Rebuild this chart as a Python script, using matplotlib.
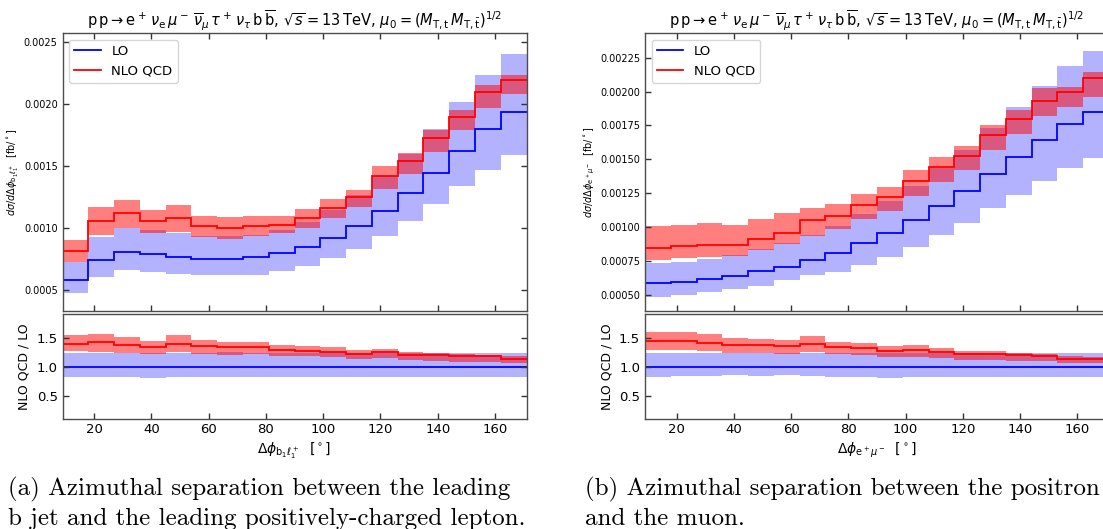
import numpy as np
import matplotlib
matplotlib.use('Agg')
import matplotlib.pyplot as plt
from matplotlib.lines import Line2D
from matplotlib.ticker import FormatStrFormatter

# bin edges in degrees (9 degree bins)
edges = np.arange(9, 172, 9)

# ---- panel (a): delta phi b1 l1+ ----
lo_a = [0.000585, 0.000748, 0.00081, 0.000794, 0.00077, 0.000756, 0.000752, 0.000767, 0.000797,
        0.000847, 0.00092, 0.00102, 0.00114, 0.001285, 0.001448, 0.001626, 0.0018, 0.001937]
lo_dn_a = [0.00048, 0.00061, 0.00066, 0.000646, 0.000635, 0.00062, 0.00062, 0.000627, 0.000657,
           0.000694, 0.00076, 0.000837, 0.000936, 0.001056, 0.001193, 0.00134, 0.00147, 0.00159]
lo_up_a = [0.00073, 0.00093, 0.001, 0.00099, 0.00096, 0.00094, 0.00094, 0.00095, 0.00099,
           0.00105, 0.00115, 0.00127, 0.00142, 0.0016, 0.0018, 0.00202, 0.00224, 0.00241]
nlo_a = [0.00082, 0.00106, 0.00112, 0.00106, 0.00108, 0.00102, 0.001, 0.00102, 0.00103,
         0.001084, 0.001164, 0.00125, 0.001424, 0.001545, 0.001728, 0.0019, 0.0021, 0.0022]
nlo_dn_a = [0.00073, 0.00095, 0.001, 0.00096, 0.00097, 0.00093, 0.000915, 0.00094, 0.00096,
            0.001, 0.00108, 0.00117, 0.00132, 0.00144, 0.001615, 0.00179, 0.00197, 0.00208]
nlo_up_a = [0.000903, 0.00117, 0.00123, 0.00115, 0.00119, 0.0011, 0.00109, 0.0011, 0.0011,
            0.00116, 0.00124, 0.00131, 0.0015, 0.00161, 0.001795, 0.001956, 0.002155, 0.00224]
ratio_a = [1.405, 1.43, 1.38, 1.35, 1.405, 1.36, 1.34, 1.345, 1.29,
           1.28, 1.265, 1.225, 1.25, 1.21, 1.2, 1.18, 1.18, 1.14]
ratio_dn_a = [1.276, 1.265, 1.24, 1.22, 1.265, 1.22, 1.21, 1.22, 1.19,
              1.18, 1.17, 1.14, 1.15, 1.12, 1.11, 1.09, 1.09, 1.07]
ratio_up_a = [1.55, 1.57, 1.52, 1.45, 1.55, 1.46, 1.44, 1.43, 1.38,
              1.37, 1.34, 1.30, 1.31, 1.26, 1.245, 1.22, 1.21, 1.18]

# ---- panel (b): delta phi e+ mu- ----
lo_b = [0.00059, 0.0006, 0.000616, 0.000638, 0.000674, 0.00071, 0.00076, 0.00081, 0.000883,
        0.00096, 0.00105, 0.001153, 0.001265, 0.001394, 0.001517, 0.001641, 0.001758, 0.001848]
lo_dn_b = [0.000485, 0.0005, 0.00052, 0.000543, 0.000568, 0.000609, 0.000645, 0.00067, 0.00072,
           0.00078, 0.000857, 0.00094, 0.00103, 0.00114, 0.00124, 0.00134, 0.001435, 0.001508]
lo_up_b = [0.000733, 0.000746, 0.000766, 0.000793, 0.000838, 0.000883, 0.000945, 0.001007, 0.001098,
           0.001193, 0.001305, 0.001433, 0.001572, 0.001733, 0.001886, 0.00204, 0.002185, 0.002297]
nlo_b = [0.000847, 0.00086, 0.000871, 0.000871, 0.000913, 0.000956, 0.00105, 0.001082, 0.001163,
         0.001221, 0.001338, 0.001442, 0.001527, 0.001683, 0.0018, 0.001928, 0.001993, 0.0021]
nlo_dn_b = [0.00076, 0.00077, 0.00078, 0.00079, 0.000835, 0.000876, 0.000937, 0.00099, 0.001063,
            0.001119, 0.001233, 0.00133, 0.001423, 0.001569, 0.001685, 0.001816, 0.001884, 0.001957]
nlo_up_b = [0.00101, 0.00102, 0.001034, 0.00102, 0.001063, 0.001107, 0.001143, 0.001168, 0.001248,
            0.001297, 0.001423, 0.00152, 0.001598, 0.001753, 0.001865, 0.002025, 0.002035, 0.002147]
ratio_b = [1.451, 1.451, 1.42, 1.382, 1.382, 1.365, 1.406, 1.347, 1.324,
           1.278, 1.285, 1.255, 1.22, 1.22, 1.198, 1.18, 1.139, 1.139]
ratio_dn_b = [1.29, 1.29, 1.267, 1.238, 1.24, 1.226, 1.25, 1.226, 1.208,
              1.174, 1.174, 1.156, 1.122, 1.116, 1.104, 1.093, 1.07, 1.059]
ratio_up_b = [1.608, 1.608, 1.58, 1.51, 1.49, 1.475, 1.532, 1.434, 1.42,
              1.365, 1.376, 1.33, 1.272, 1.267, 1.238, 1.22, 1.186, 1.174]

title = (r'$\mathrm{p\,p} \to \mathrm{e}^+\,\nu_\mathrm{e}\,\mu^-\,\overline{\nu}_\mu\,\tau^+\,'
         r'\nu_\tau\,\mathrm{b}\,\overline{\mathrm{b}}$, $\sqrt{s} = 13\,\mathrm{TeV}$, '
         r'$\mu_0 = (M_{\mathrm{T,t}}\,M_{\mathrm{T,\bar{t}}})^{1/2}$')

W, H = 1103, 529
fig = plt.figure(figsize=(W / 100, H / 100), dpi=100)

SPINE = '0.3'


def style(ax):
    for s in ax.spines.values():
        s.set_color(SPINE)
        s.set_linewidth(1.0)
    ax.tick_params(direction='in', length=4, width=1, color='0.2',
                   top=True, right=True, bottom=True, left=True)


def panel(x0, lo, lo_dn, lo_up, nlo, nlo_dn, nlo_up, r, r_dn, r_up,
          ylim, yticks, yfmt, ylab, xlab):
    ax = fig.add_axes([x0 / W, (H - 311) / H, 464 / W, 278 / H])
    rax = fig.add_axes([x0 / W, (H - 418.5) / H, 464 / W, 104.5 / H])

    lo = np.array(lo)
    ax.stairs(lo_up, edges, baseline=lo_dn, fill=True, color='blue', alpha=0.3, lw=0)
    ax.stairs(nlo_up, edges, baseline=nlo_dn, fill=True, color='red', alpha=0.5, lw=0)
    ax.stairs(lo, edges, baseline=None, color='blue', lw=1.3)
    ax.stairs(nlo, edges, baseline=None, color='red', lw=1.3)
    ax.set_xlim(9, 171)
    ax.set_ylim(*ylim)
    ax.set_yticks(yticks)
    ax.yaxis.set_major_formatter(FormatStrFormatter(yfmt))
    ax.set_xticks([20, 40, 60, 80, 100, 120, 140, 160])
    ax.tick_params(labelbottom=False)
    ax.tick_params(axis='y', labelsize=7)
    ax.set_ylabel(ylab, fontsize=7, labelpad=2)
    ax.set_title(title, fontsize=10.5, pad=4)
    style(ax)
    handles = [Line2D([], [], color='blue', lw=1.3), Line2D([], [], color='red', lw=1.3)]
    ax.legend(handles, ['LO', 'NLO QCD'], loc='upper left', fontsize=9.5)

    rax.stairs(np.array(lo_up) / lo, edges, baseline=np.array(lo_dn) / lo,
               fill=True, color='blue', alpha=0.3, lw=0)
    rax.stairs(r_up, edges, baseline=r_dn, fill=True, color='red', alpha=0.5, lw=0)
    rax.stairs(np.ones(len(lo)), edges, baseline=None, color='blue', lw=1.3)
    rax.stairs(r, edges, baseline=None, color='red', lw=1.3)
    rax.set_xlim(9, 171)
    rax.set_ylim(0.1, 1.92)
    rax.set_yticks([0.5, 1.0, 1.5])
    rax.yaxis.set_major_formatter(FormatStrFormatter('%.1f'))
    rax.set_xticks([20, 40, 60, 80, 100, 120, 140, 160])
    rax.tick_params(labelsize=9.5)
    rax.set_ylabel('NLO QCD / LO', fontsize=9)
    rax.set_xlabel(xlab, fontsize=10, labelpad=3)
    style(rax)
    rax.tick_params(top=False)
    return ax, rax


axa, raxa = panel(62.5, lo_a, lo_dn_a, lo_up_a, nlo_a, nlo_dn_a, nlo_up_a,
                  ratio_a, ratio_dn_a, ratio_up_a,
                  (0.000333, 0.002576), [0.0005, 0.001, 0.0015, 0.002, 0.0025], '%.4f',
                  r'$d\sigma/d\Delta\phi_{\mathrm{b}_1\ell_1^+}$  [fb/$^\circ$]',
                  r'$\Delta\phi_{\mathrm{b}_1\ell_1^+}$  [$^\circ$]')
axb, raxb = panel(645, lo_b, lo_dn_b, lo_up_b, nlo_b, nlo_dn_b, nlo_up_b,
                  ratio_b, ratio_dn_b, ratio_up_b,
                  (0.000383, 0.002431),
                  [0.0005, 0.00075, 0.001, 0.00125, 0.0015, 0.00175, 0.002, 0.00225], '%.5f',
                  r'$d\sigma/d\Delta\phi_{\mathrm{e}^+\mu^-}$  [fb/$^\circ$]',
                  r'$\Delta\phi_{\mathrm{e}^+\mu^-}$  [$^\circ$]')

# captions below the sub-figures
cap = dict(fontfamily='cmr10', fontsize=18, va='baseline', ha='left')
fig.text(8 / W, 1 - 495 / H, '(a) Azimuthal separation between the leading', **cap)
fig.text(8 / W, 1 - 525 / H, 'b jet and the leading positively-charged lepton.', **cap)
fig.text(585 / W, 1 - 495 / H, '(b) Azimuthal separation between the positron', **cap)
fig.text(585 / W, 1 - 525 / H, 'and the muon.', **cap)

fig.savefig('out.png', dpi=100)
